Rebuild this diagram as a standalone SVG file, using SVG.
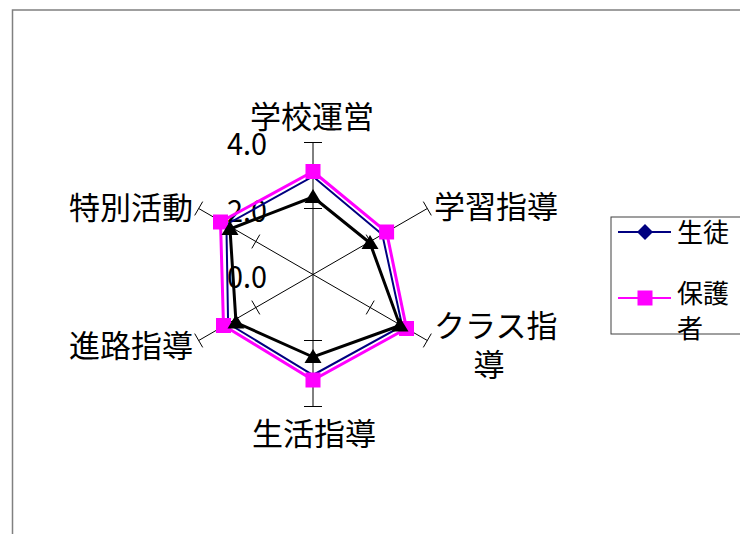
<svg xmlns="http://www.w3.org/2000/svg" width="740" height="534" viewBox="0 0 740 534">
<style>
.lbl{font-family:"Noto Sans CJK JP","Noto Sans CJK SC",sans-serif;font-size:31px;fill:#000}
.num{font-family:"Noto Sans CJK JP","DejaVu Sans Condensed",sans-serif;font-size:31px;fill:#000}
.leg{font-family:"Noto Sans CJK JP","Noto Sans CJK SC",sans-serif;font-size:26px;fill:#000}
.spoke{stroke:#000;stroke-width:1;fill:none}
.tick{stroke:#000;stroke-width:1}
</style>
<defs>
<rect id="sq" x="-7.5" y="-7.5" width="15" height="15" fill="#FF00FF"/>
<path id="tri" d="M0,-8 L8.5,6 L-8.5,6 Z" fill="#000"/>
<path id="dia" d="M0,-8 L8,0 L0,8 L-8,0 Z" fill="#000080"/>
</defs>
<rect width="740" height="534" fill="#fff"/>
<rect x="12.5" y="10" width="740" height="540" fill="none" stroke="#808080" stroke-width="1.5"/>
<g id="axes">
<line class="spoke" x1="313" y1="274.5" x2="313" y2="142.5"/>
<line class="spoke" x1="313" y1="274.5" x2="427.3" y2="208.5"/>
<line class="spoke" x1="313" y1="274.5" x2="427.3" y2="340.5"/>
<line class="spoke" x1="313" y1="274.5" x2="313" y2="406.5"/>
<line class="spoke" x1="313" y1="274.5" x2="198.7" y2="340.5"/>
<line class="spoke" x1="313" y1="274.5" x2="198.7" y2="208.5"/>
<line class="tick" x1="304" y1="142.5" x2="322" y2="142.5"/>
<line class="tick" x1="304" y1="208.5" x2="322" y2="208.5"/>
<line class="tick" x1="304" y1="406.5" x2="322" y2="406.5"/>
<line class="tick" x1="304" y1="340.5" x2="322" y2="340.5"/>
<line class="tick" x1="423.3" y1="201.6" x2="431.3" y2="215.4"/>
<line class="tick" x1="366.2" y1="234.6" x2="374.2" y2="248.4"/>
<line class="tick" x1="423.3" y1="347.4" x2="431.3" y2="333.6"/>
<line class="tick" x1="366.2" y1="314.4" x2="374.2" y2="300.6"/>
<line class="tick" x1="202.7" y1="347.4" x2="194.7" y2="333.6"/>
<line class="tick" x1="259.8" y1="314.4" x2="251.8" y2="300.6"/>
<line class="tick" x1="202.7" y1="201.6" x2="194.7" y2="215.4"/>
<line class="tick" x1="259.8" y1="234.6" x2="251.8" y2="248.4"/>
<text class="num" x="267" y="155" text-anchor="end" textLength="40" lengthAdjust="spacingAndGlyphs">4.0</text>
<text class="num" x="267" y="221.5" text-anchor="end" textLength="40" lengthAdjust="spacingAndGlyphs">2.0</text>
<text class="num" x="267" y="287.5" text-anchor="end" textLength="40" lengthAdjust="spacingAndGlyphs">0.0</text>
</g>
<g id="labels">
<text class="lbl" x="312" y="128" text-anchor="middle">学校運営</text>
<text class="lbl" x="434" y="218">学習指導</text>
<text class="lbl" x="434" y="336.5">クラス指</text>
<text class="lbl" x="489" y="375.5" text-anchor="middle">導</text>
<text class="lbl" x="314" y="444.5" text-anchor="middle">生活指導</text>
<text class="lbl" x="193" y="356.5" text-anchor="end">進路指導</text>
<text class="lbl" x="193" y="219" text-anchor="end">特別活動</text>
</g>
<g id="connectors">
<polygon id="series-seito" points="313,176.5 382.3,234.5 402.2,326 313,375 228.1,323.5 226.4,224.5" fill="none" stroke="#000080" stroke-width="2" stroke-linejoin="miter"/>
<polygon id="series-hogosha" points="313,171.5 386.6,232 406.5,328.5 313,380 223.5,325.5 220.5,222" fill="none" stroke="#FF00FF" stroke-width="3"/>
<polygon id="series-3" points="313,197 370,243 400,325.5 313,357 236,322.5 230,229" fill="none" stroke="#000" stroke-width="3"/>
</g>
<g id="markers-hogosha">
<use href="#sq" x="313" y="171.5"/>
<use href="#sq" x="386.6" y="232"/>
<use href="#sq" x="406.5" y="328.5"/>
<use href="#sq" x="313" y="380"/>
<use href="#sq" x="223.5" y="325.5"/>
<use href="#sq" x="220.5" y="222"/>
</g>
<g id="markers-3">
<use href="#tri" x="313" y="197"/>
<use href="#tri" x="370" y="243"/>
<use href="#tri" x="400" y="325.5"/>
<use href="#tri" x="313" y="357"/>
<use href="#tri" x="236" y="322.5"/>
<use href="#tri" x="230" y="229"/>
</g>
<g id="legend">
<rect x="611" y="217" width="140" height="117" fill="#fff" stroke="#404040" stroke-width="1"/>
<line x1="618" y1="232" x2="671" y2="232" stroke="#000080" stroke-width="2"/>
<use href="#dia" x="645" y="232"/>
<text class="leg" x="677" y="242">生徒</text>
<line x1="618" y1="298" x2="671" y2="298" stroke="#FF00FF" stroke-width="2"/>
<use href="#sq" x="645" y="298"/>
<text class="leg" x="677" y="303">保護</text>
<text class="leg" x="677" y="338">者</text>
</g>
</svg>
